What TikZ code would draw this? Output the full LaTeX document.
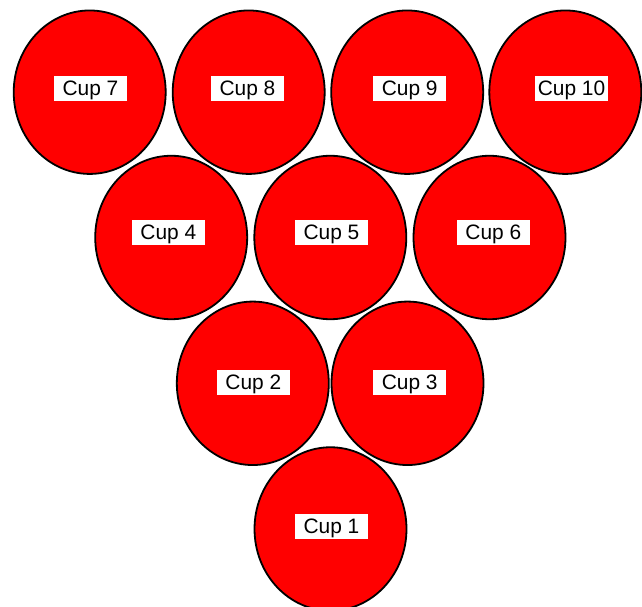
\documentclass[tikz,border=0pt]{standalone}
\usepackage{fontspec}
\setmainfont{Liberation Sans}
\usetikzlibrary{shapes.geometric}
\definecolor{cupred}{HTML}{FF0000}

\begin{document}
\begin{tikzpicture}[x=0.02cm, y=-0.02cm,
      cup/.style={draw, ellipse, line width=0.036cm, fill=cupred, minimum width=3.04cm, minimum height=3.27cm, inner sep=0pt},
      tag/.style={fill=white, minimum width=1.46cm, minimum height=0.49cm, inner sep=0pt, text depth=0pt, font=\fontsize{11.9}{14}\selectfont}
    ]
      \useasboundingbox (0,0) rectangle (642,607);
      \node[cup] (cup1) at (330.5,529) {};
      \node[cup] (cup2) at (252.8,383.3) {};
      \node[cup] (cup3) at (407.5,383.3) {};
      \node[cup] (cup4) at (171.2,237.5) {};
      \node[cup] (cup5) at (330.3,237.5) {};
      \node[cup] (cup6) at (489.5,237.5) {};
      \node[cup] (cup7) at (89.7,92.2) {};
      \node[cup] (cup8) at (248.7,92.2) {};
      \node[cup] (cup9) at (407.2,92.2) {};
      \node[cup] (cup10) at (565.3,92.2) {};
      \node[tag] (tag1) at (331.5,526.3) {Cup 1};
      \node[tag] (tag2) at (253.3,382.3) {Cup 2};
      \node[tag] (tag3) at (409.7,382.3) {Cup 3};
      \node[tag] (tag4) at (168.3,232.3) {Cup 4};
      \node[tag] (tag5) at (331.5,232.5) {Cup 5};
      \node[tag] (tag6) at (493.3,232.5) {Cup 6};
      \node[tag] (tag7) at (90.5,88.3) {Cup 7};
      \node[tag] (tag8) at (247.5,88.3) {Cup 8};
      \node[tag] (tag9) at (409.7,88.3) {Cup 9};
      \node[tag] (tag10) at (571.5,88.3) {Cup 10};
    \end{tikzpicture}
\end{document}
